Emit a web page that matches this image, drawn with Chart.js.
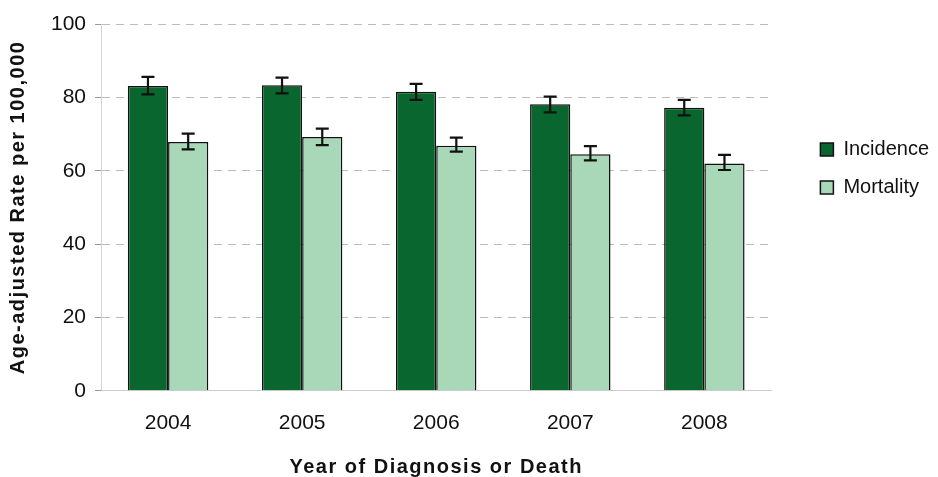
<!DOCTYPE html>
<html>
<head>
<meta charset="utf-8">
<script src="https://cdn.jsdelivr.net/npm/chart.js@4.4.1/dist/chart.umd.min.js"></script>
<style>
  html, body { margin: 0; padding: 0; background: #fff; }
  #wrap { width: 938px; height: 477px; }
</style>
</head>
<body>
<div id="wrap"><canvas id="rateChart" width="938" height="477"></canvas></div>
<script>
// Years on the x axis
const years = ['2004', '2005', '2006', '2007', '2008'];

// Age-adjusted rates per 100,000
const incidence = [83.1, 83.3, 81.5, 78.1, 77.2];
const incidenceLow = [80.8, 81.1, 79.3, 75.9, 75.1];
const incidenceHigh = [85.6, 85.4, 83.7, 80.2, 79.3];

const mortality = [67.8, 69.2, 66.8, 64.5, 62.0];
const mortalityLow = [65.8, 67.0, 65.2, 62.8, 60.2];
const mortalityHigh = [70.1, 71.5, 69.0, 66.7, 64.3];

const yTicks = [0, 20, 40, 60, 80, 100];

const FONT = 'Liberation Sans, Arial, sans-serif';

// Draws the confidence interval whiskers on top of each bar
const errorBars = {
    id: 'errorBars',
    afterDatasetsDraw(chart) {
        const ctx = chart.ctx;
        const yScale = chart.scales.y;
        chart.data.datasets.forEach((ds, i) => {
            const meta = chart.getDatasetMeta(i);
            meta.data.forEach((bar, j) => {
                const yLo = yScale.getPixelForValue(ds.errLow[j]);
                const yHi = yScale.getPixelForValue(ds.errHigh[j]);
                const x = bar.x;
                const cap = 6.5;
                ctx.save();
                ctx.strokeStyle = '#111';
                ctx.lineWidth = 2.2;
                ctx.beginPath();
                ctx.moveTo(x, yLo);
                ctx.lineTo(x, yHi);
                ctx.moveTo(x - cap, yLo);
                ctx.lineTo(x + cap, yLo);
                ctx.moveTo(x - cap, yHi);
                ctx.lineTo(x + cap, yHi);
                ctx.stroke();
                ctx.restore();
            });
        });
    }
};

// The axis titles in the picture are a little letter-spaced
const spacedTitles = {
    id: 'spacedTitles',
    beforeDraw(chart) {
        ['x', 'y'].forEach(id => {
            const scale = chart.scales[id];
            if (!scale || scale._spaced) return;
            const orig = scale.drawTitle.bind(scale);
            scale.drawTitle = function () {
                chart.ctx.save();
                chart.ctx.letterSpacing = '1.5px';
                orig();
                chart.ctx.restore();
            };
            scale._spaced = true;
        });
    }
};

const ctx = document.getElementById('rateChart').getContext('2d');

new Chart(ctx, {
    type: 'bar',
    data: {
        labels: years,
        datasets: [{
            label: 'Incidence',
            data: incidence,
            errLow: incidenceLow,
            errHigh: incidenceHigh,
            backgroundColor: '#0a662f',
            borderColor: '#111',
            borderWidth: 1.5,
            categoryPercentage: 0.6,
            barPercentage: 1.0
        }, {
            label: 'Mortality',
            data: mortality,
            errLow: mortalityLow,
            errHigh: mortalityHigh,
            backgroundColor: '#a9d8b9',
            borderColor: '#111',
            borderWidth: 1.5,
            categoryPercentage: 0.6,
            barPercentage: 1.0
        }]
    },
    options: {
        responsive: false,
        animation: false,
        layout: { padding: { top: 24, right: -1, left: 4, bottom: -2 } },
        plugins: {
            tooltip: { enabled: false },
            legend: {
                position: 'right',
                align: 'start',
                title: { display: true, text: ' ', padding: { top: 83, bottom: 0 } },
                labels: {
                    color: '#111',
                    boxWidth: 13,
                    boxHeight: 13,
                    padding: 18,
                    font: { family: FONT, size: 20 }
                }
            }
        },
        scales: {
            x: {
                grid: { display: false },
                border: { color: '#ccc' },
                ticks: {
                    color: '#111',
                    padding: 12,
                    font: { family: FONT, size: 21 }
                },
                title: {
                    display: true,
                    text: 'Year of Diagnosis or Death',
                    color: '#111',
                    padding: { top: 7, bottom: 0 },
                    font: { family: FONT, size: 20, weight: 'bold' }
                }
            },
            y: {
                min: 0,
                max: 100,
                afterBuildTicks(scale) {
                    scale.ticks = yTicks.map(v => ({ value: v }));
                },
                grid: {
                    color: '#bbb',
                    tickColor: '#999',
                    tickLength: 6,
                    tickBorderDash: [0, 0]
                },
                border: { color: '#d4d4d4', dash: [8, 6] },
                ticks: {
                    color: '#111',
                    padding: 9,
                    font: { family: FONT, size: 21 }
                },
                title: {
                    display: true,
                    text: 'Age-adjusted Rate per 100,000',
                    color: '#111',
                    padding: { top: 2, bottom: 12 },
                    font: { family: FONT, size: 20, weight: 'bold' }
                }
            },
            // empty axis that only keeps a gap between the bars and the legend
            gap: {
                type: 'linear',
                position: 'right',
                display: true,
                grid: { display: false, drawTicks: false },
                border: { display: false },
                ticks: { display: false },
                afterFit(scale) {
                    scale.width = 31;
                }
            }
        }
    },
    plugins: [errorBars, spacedTitles]
});
</script>
</body>
</html>
